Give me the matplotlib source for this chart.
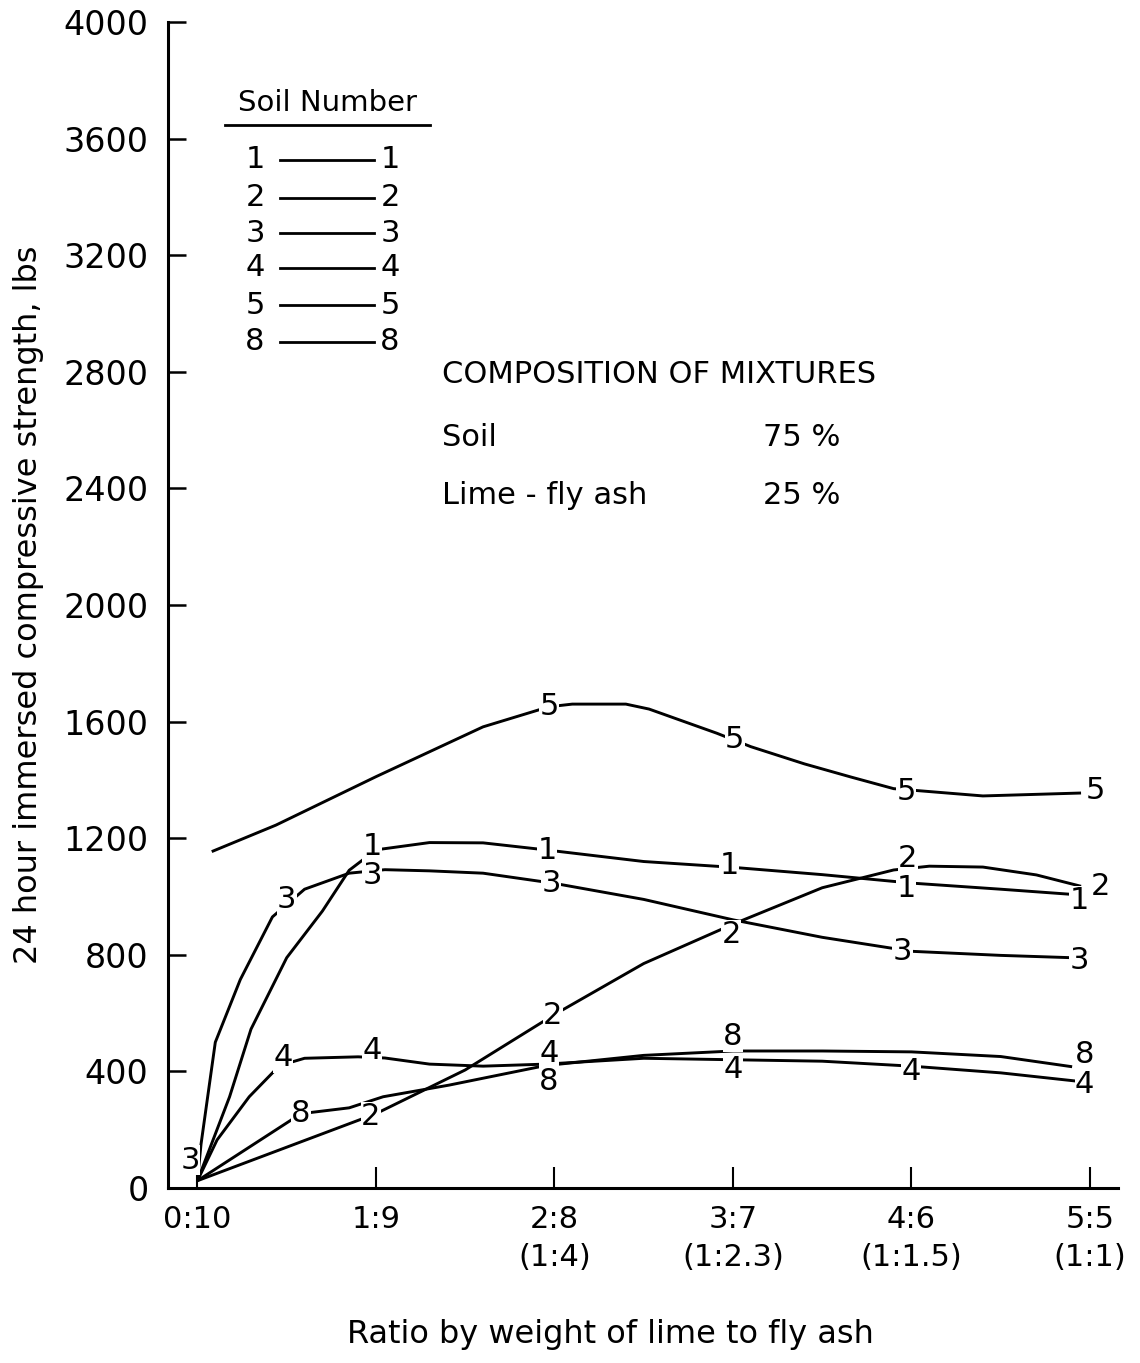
import matplotlib.pyplot as plt
from matplotlib.lines import Line2D

# ratio of lime to fly ash (x = parts of lime out of 10)
ratio_ticks = [0, 1, 2, 3, 4, 5]
ratio_labels = ['0:10', '1:9', '2:8\n(1:4)', '3:7\n(1:2.3)', '4:6\n(1:1.5)', '5:5\n(1:1)']
strength_ticks = [0, 400, 800, 1200, 1600, 2000, 2400, 2800, 3200, 3600, 4000]

# curves
soil1_x = [0, 0.18, 0.3, 0.5, 0.7, 0.85, 1.0, 1.3, 1.6, 1.95, 2.5, 3.0, 3.5, 4.0, 4.5, 4.95]
soil1_y = [25, 313, 545, 790, 950, 1090, 1160, 1185, 1184, 1160, 1120, 1100, 1075, 1046, 1025, 1005]
soil2_x = [0, 0.5, 1.0, 1.5, 2.0, 2.5, 3.0, 3.5, 3.9, 4.1, 4.4, 4.7, 4.95]
soil2_y = [25, 140, 255, 405, 595, 770, 905, 1030, 1091, 1104, 1101, 1074, 1035]
soil3_x = [0, 0.02, 0.1, 0.24, 0.42, 0.6, 0.85, 1.05, 1.3, 1.6, 2.0, 2.5, 3.0, 3.5, 4.0, 4.5, 4.95]
soil3_y = [25, 150, 500, 715, 930, 1025, 1080, 1092, 1088, 1080, 1045, 990, 920, 860, 812, 798, 789]
soil4_x = [0, 0.11, 0.29, 0.46, 0.6, 0.9, 1.05, 1.3, 1.6, 1.95, 2.5, 3.0, 3.5, 4.0, 4.5, 4.95]
soil4_y = [25, 165, 313, 420, 445, 450, 446, 425, 418, 425, 445, 440, 435, 418, 395, 365]
soil5_x = [0.08, 0.44, 1.0, 1.6, 1.97, 2.1, 2.4, 2.53, 2.91, 3.1, 3.4, 3.66, 3.9, 4.4, 4.95]
soil5_y = [1154, 1245, 1411, 1582, 1651, 1660, 1660, 1643, 1560, 1514, 1455, 1410, 1370, 1345, 1355]
soil8_x = [0, 0.29, 0.58, 0.85, 1.04, 1.41, 1.95, 2.5, 3.0, 3.5, 4.0, 4.5, 4.9]
soil8_y = [25, 140, 255, 275, 313, 353, 420, 455, 470, 470, 467, 451, 416]

# curve labels (number, x, y)
label_soil = ['5', '5', '5', '5',
              '1', '1', '1', '1', '1',
              '3', '3', '3', '3', '3', '3',
              '2', '2', '2', '2', '2',
              '4', '4', '4', '4', '4', '4',
              '8', '8', '8', '8']
label_x = [1.97, 3.01, 3.97, 5.03,
           0.98, 1.96, 2.98, 3.97, 4.94,
           -0.04, 0.50, 0.98, 1.98, 3.95, 4.94,
           0.97, 1.99, 2.99, 3.98, 5.06,
           0.48, 0.98, 1.97, 3.0, 4.0, 4.97,
           0.58, 1.97, 3.0, 4.97]
label_y = [1651, 1537, 1359, 1363,
           1171, 1159, 1108, 1028, 985,
           96, 988, 1073, 1046, 810, 782,
           245, 593, 868, 1130, 1035,
           446, 473, 463, 405, 399, 355,
           257, 365, 519, 458]

legend_soils = ['1', '2', '3', '4', '5', '8']

plt.rcParams['font.family'] = 'DejaVu Sans'
fig = plt.figure(figsize=(11.4, 13.63), dpi=100)
ax = fig.add_axes([168 / 1140, 1 - 1188 / 1363, 950 / 1140, 1166 / 1363])

curves = [(soil1_x, soil1_y), (soil2_x, soil2_y), (soil3_x, soil3_y),
          (soil4_x, soil4_y), (soil5_x, soil5_y), (soil8_x, soil8_y)]
for cx, cy in curves:
    ax.plot(cx, cy, color='black', lw=2.1, solid_capstyle='butt', zorder=2)

for s, lx, ly in zip(label_soil, label_x, label_y):
    ax.text(lx, ly, s, fontsize=22, ha='center', va='center', zorder=3,
            bbox=dict(fc='white', ec='none', pad=0.3))

ax.set_xlim(-0.165, 5.157)
ax.set_ylim(0, 4000)
ax.set_xticks(ratio_ticks)
ax.set_xticklabels(ratio_labels)
ax.set_yticks(strength_ticks)
for lab in ax.get_xticklabels():
    lab.set_linespacing(1.4)
ax.tick_params(axis='y', direction='in', length=13, width=1.8, labelsize=24, pad=14)
ax.tick_params(axis='x', direction='in', length=15, width=1.5, labelsize=22, pad=12)
ax.spines['top'].set_visible(False)
ax.spines['right'].set_visible(False)
ax.spines['left'].set_linewidth(2.2)
ax.spines['bottom'].set_linewidth(2.2)

ax.set_ylabel('24 hour immersed compressive strength, lbs', fontsize=23, labelpad=14)
fig.text(610 / 1140, 1 - 1335 / 1363, 'Ratio by weight of lime to fly ash',
         fontsize=23, ha='center', va='center')

# legend block
fig.text(327 / 1140, 1 - 103 / 1363, 'Soil Number', fontsize=21, ha='center', va='center')
fig.add_artist(Line2D([225 / 1140, 430 / 1140], [1 - 125 / 1363] * 2, color='black', lw=2))
legend_rows = [160, 198, 233, 268, 305, 342]
for s, row in zip(legend_soils, legend_rows):
    yy = 1 - row / 1363
    fig.text(255 / 1140, yy, s, fontsize=22, ha='center', va='center')
    fig.text(390 / 1140, yy, s, fontsize=22, ha='center', va='center')
    fig.add_artist(Line2D([280 / 1140, 374 / 1140], [yy, yy], color='black', lw=2))

# composition note
fig.text(442 / 1140, 1 - 375 / 1363, 'COMPOSITION OF MIXTURES', fontsize=22, va='center')
fig.text(442 / 1140, 1 - 438 / 1363, 'Soil', fontsize=22, va='center')
fig.text(763 / 1140, 1 - 438 / 1363, '75 %', fontsize=22, va='center')
fig.text(442 / 1140, 1 - 495 / 1363, 'Lime - fly ash', fontsize=22, va='center')
fig.text(763 / 1140, 1 - 495 / 1363, '25 %', fontsize=22, va='center')

fig.savefig('out.png', dpi=100)
